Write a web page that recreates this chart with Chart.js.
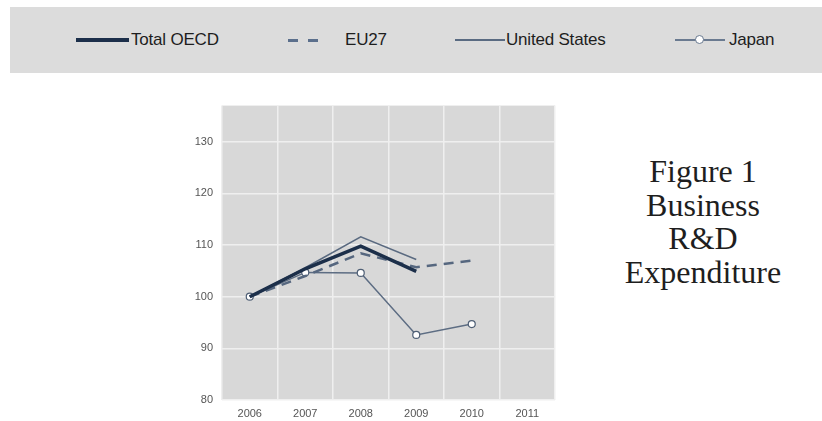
<!DOCTYPE html>
<html>
<head>
<meta charset="utf-8">
<script src="https://cdn.jsdelivr.net/npm/chart.js@4.4.1/dist/chart.umd.min.js"></script>
<style>
    html, body { margin: 0; padding: 0; background: #fff; }
    body { width: 822px; height: 421px; position: relative; overflow: hidden; font-family: "Liberation Sans", Arial, sans-serif; }
    #legend { position: absolute; left: 10px; top: 7px; width: 812px; height: 66px; background: #dcdcdc; }
    .item { position: absolute; top: 0; height: 66px; }
    .sample { position: absolute; top: 33px; }
    .label { position: absolute; top: 23px; font-size: 17px; color: #1e1e1e; white-space: nowrap; line-height: 20px; letter-spacing: -0.2px; }
    #wrap { position: absolute; left: 180px; top: 90px; width: 400px; height: 331px; }
    #fig { position: absolute; left: 593px; top: 155px; width: 220px; text-align: center;
           font-family: "Liberation Serif", "Times New Roman", serif; font-size: 32px; line-height: 33.5px; color: #1e1e1e; }
</style>
</head>
<body>
<div id="legend"></div>
<div id="wrap"><canvas id="graficoRD"></canvas></div>
<div id="fig">Figure 1<br>Business<br>R&amp;D<br>Expenditure</div>
<script>
const years = ['2006', '2007', '2008', '2009', '2010', '2011'];
const totalOECD = [100, 105.4, 109.8, 104.9, null, null];
const eu27 = [100, 104.0, 108.4, 105.7, 107.0, null];
const unitedStates = [100, 105.6, 111.6, 107.2, null, null];
const japan = [100, 104.7, 104.6, 92.6, 94.7, null];
const yTicks = [80, 90, 100, 110, 120, 130];

// legend band drawn as plain html
const legend = document.getElementById('legend');
function addItem(left, sampleHtml, text, textLeft) {
    legend.insertAdjacentHTML('beforeend',
        '<div class="item" style="left:' + (left - 10) + 'px">' + sampleHtml +
        '<div class="label" style="left:' + (textLeft - left) + 'px">' + text + '</div></div>');
}
addItem(76, '<div class="sample" style="left:0;width:53px;height:0;border-top:4px solid #1c2f4a;margin-top:-2px"></div>', 'Total OECD', 131);
addItem(288, '<div class="sample" style="left:0;width:10px;border-top:3px solid #5b6f8c;margin-top:-1px"></div>' +
    '<div class="sample" style="left:20px;width:10px;border-top:3px solid #5b6f8c;margin-top:-1px"></div>', 'EU27', 345);
addItem(455, '<div class="sample" style="left:0;width:50px;border-top:2px solid #5a6b82;margin-top:-1px"></div>', 'United States', 506);
addItem(675, '<div class="sample" style="left:0;width:50px;border-top:2px solid #6a7a90;margin-top:-1px"></div>' +
    '<div class="sample" style="left:20px;width:7px;height:7px;border:1.5px solid #6a7a90;border-radius:50%;background:#fff;margin-top:-5px"></div>', 'Japan', 729);

const plotBg = {
    id: 'plotBg',
    beforeDraw(chart) {
        const a = chart.chartArea;
        const ctx = chart.ctx;
        ctx.save();
        ctx.fillStyle = '#d8d8d8';
        ctx.fillRect(a.left, a.top, a.right - a.left, a.bottom - a.top);
        ctx.restore();
    }
};

const ctx = document.getElementById('graficoRD').getContext('2d');
new Chart(ctx, {
    type: 'line',
    data: {
        labels: years,
        datasets: [
            { label: 'Total OECD', data: totalOECD, borderColor: '#1c2f4a', borderWidth: 3.5, pointRadius: 0, tension: 0 },
            { label: 'EU27', data: eu27, borderColor: '#56677f', borderWidth: 2.5, borderDash: [10, 7], pointRadius: 0, tension: 0 },
            { label: 'United States', data: unitedStates, borderColor: '#5a6a80', borderWidth: 1.5, pointRadius: 0, tension: 0 },
            { label: 'Japan', data: japan, borderColor: '#5d6d83', borderWidth: 1.5, pointRadius: 3.5,
              pointBackgroundColor: '#ffffff', pointBorderColor: '#4f5f75', pointBorderWidth: 1.2, tension: 0 }
        ]
    },
    options: {
        responsive: true,
        maintainAspectRatio: false,
        animation: false,
        layout: { padding: { top: 9, right: 25, left: 0, bottom: 0 } },
        plugins: { legend: { display: false }, tooltip: { enabled: false } },
        scales: {
            x: {
                offset: true,
                grid: { offset: true, color: '#efefef', lineWidth: 1.5, drawTicks: false },
                border: { display: false },
                ticks: { color: '#555', font: { family: 'Liberation Sans', size: 11 }, padding: 7, maxRotation: 0 },
                afterFit: s => { s.height = 21; }
            },
            y: {
                min: 80,
                max: 137,
                afterBuildTicks: s => { s.ticks = yTicks.map(v => ({ value: v })); },
                grid: { color: '#efefef', lineWidth: 1.5, drawTicks: false },
                border: { display: false },
                ticks: { color: '#555', font: { family: 'Liberation Sans', size: 11 }, padding: 9 },
                afterFit: s => { s.width = 42; }
            }
        }
    },
    plugins: [plotBg]
});
</script>
</body>
</html>
